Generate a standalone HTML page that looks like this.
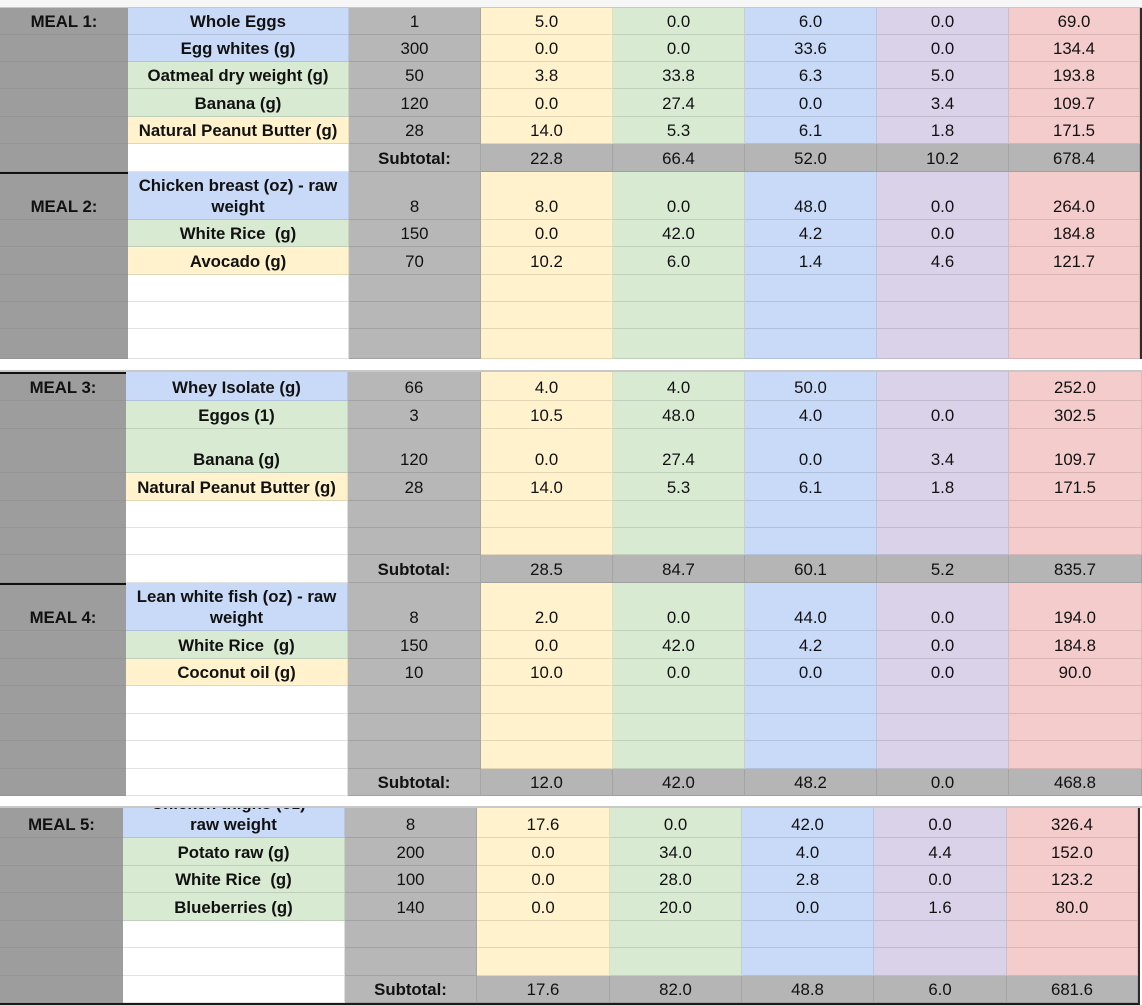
<!DOCTYPE html>
<html><head><meta charset="utf-8">
<style>
html,body{margin:0;padding:0;background:#fff;}
body{width:1142px;height:1006px;position:relative;overflow:hidden;font-family:"Liberation Sans",Arial,sans-serif;font-size:16.8px;color:#111;}
.top{position:absolute;left:0;top:0;width:1142px;height:7px;background:#f6f6f6;border-bottom:1px solid #c8c8c8;}
.blk{position:absolute;display:grid;}
.blk>div{box-sizing:border-box;display:flex;align-items:flex-end;justify-content:center;text-align:center;padding:0 3px 2px;line-height:21px;overflow:hidden;white-space:nowrap;border-right:1px solid rgba(0,0,0,.09);border-bottom:1px solid rgba(0,0,0,.11);}
#b1{left:0;top:8px;grid-template-columns:128px 221px 132px 132px 132px 132px 132px 131px;grid-template-rows:27px 27px 27px 28px 27px 28px 48px 27px 28px 27px 27px 30px;border-right:2px solid #2b2b2b;}
#b2{left:0;top:372px;grid-template-columns:126px 222px 133px 132px 132px 132px 132px 133px;grid-template-rows:29px 28px 44px 28px 27px 27px 28px 48px 28px 27px 28px 27px 28px 27px;}
#b3{left:0;top:808px;grid-template-columns:123px 222px 132px 133px 132px 132px 133px 131px;grid-template-rows:30px 28px 27px 28px 27px 28px 27px;border-right:2px solid #2b2b2b;border-bottom:2px solid #1a1a1a;}
.a{background:#9d9d9d;font-weight:bold;border-right:none!important;border-bottom:1px solid rgba(0,0,0,.05)!important;}
.bk{border-top:2px solid #111;}
.w{background:#fff;border-bottom:1px solid #e2e2e2!important;border-right:1px solid #ddd!important;}
.bl{background:#c9daf8;font-weight:bold;}
.gr{background:#d9ead3;font-weight:bold;}
.ye{background:#fff2cc;font-weight:bold;}
.c{background:#b7b7b7;}
.y{background:#fff2cc;}
.g{background:#d9ead3;}
.u{background:#c9daf8;}
.p{background:#d9d2e9;}
.k{background:#f4cccc;}
.s{background:#b5b5b5;}
.sb{font-weight:bold;}
.gap2{position:absolute;left:0;top:370px;width:1142px;height:2px;background:#c8c8c8;}
.gap3{position:absolute;left:0;top:806px;width:1142px;height:2px;background:#c8c8c8;}
.bot{position:absolute;left:0;top:1005px;width:1142px;height:1px;background:#d8d8d8;}
</style></head><body>
<div class="top"></div>

<div class="blk" id="b1">
<div class="a">MEAL 1:</div><div class="bl">Whole Eggs</div><div class="c">1</div><div class="y">5.0</div><div class="g">0.0</div><div class="u">6.0</div><div class="p">0.0</div><div class="k">69.0</div>
<div class="a"></div><div class="bl">Egg whites (g)</div><div class="c">300</div><div class="y">0.0</div><div class="g">0.0</div><div class="u">33.6</div><div class="p">0.0</div><div class="k">134.4</div>
<div class="a"></div><div class="gr">Oatmeal dry weight (g)</div><div class="c">50</div><div class="y">3.8</div><div class="g">33.8</div><div class="u">6.3</div><div class="p">5.0</div><div class="k">193.8</div>
<div class="a"></div><div class="gr">Banana (g)</div><div class="c">120</div><div class="y">0.0</div><div class="g">27.4</div><div class="u">0.0</div><div class="p">3.4</div><div class="k">109.7</div>
<div class="a"></div><div class="ye">Natural Peanut Butter (g)</div><div class="c">28</div><div class="y">14.0</div><div class="g">5.3</div><div class="u">6.1</div><div class="p">1.8</div><div class="k">171.5</div>
<div class="a"></div><div class="w"></div><div class="c sb">Subtotal:</div><div class="s">22.8</div><div class="s">66.4</div><div class="s">52.0</div><div class="s">10.2</div><div class="s">678.4</div>
<div class="a bk">MEAL 2:</div><div class="bl">Chicken breast (oz) - raw<br>weight</div><div class="c">8</div><div class="y">8.0</div><div class="g">0.0</div><div class="u">48.0</div><div class="p">0.0</div><div class="k">264.0</div>
<div class="a"></div><div class="gr">White Rice&nbsp; (g)</div><div class="c">150</div><div class="y">0.0</div><div class="g">42.0</div><div class="u">4.2</div><div class="p">0.0</div><div class="k">184.8</div>
<div class="a"></div><div class="ye">Avocado (g)</div><div class="c">70</div><div class="y">10.2</div><div class="g">6.0</div><div class="u">1.4</div><div class="p">4.6</div><div class="k">121.7</div>
<div class="a"></div><div class="w"></div><div class="c"></div><div class="y"></div><div class="g"></div><div class="u"></div><div class="p"></div><div class="k"></div>
<div class="a"></div><div class="w"></div><div class="c"></div><div class="y"></div><div class="g"></div><div class="u"></div><div class="p"></div><div class="k"></div>
<div class="a"></div><div class="w"></div><div class="c"></div><div class="y"></div><div class="g"></div><div class="u"></div><div class="p"></div><div class="k"></div>
</div>

<div class="gap2"></div>
<div class="blk" id="b2">
<div class="a bk">MEAL 3:</div><div class="bl">Whey Isolate (g)</div><div class="c">66</div><div class="y">4.0</div><div class="g">4.0</div><div class="u">50.0</div><div class="p"></div><div class="k">252.0</div>
<div class="a"></div><div class="gr">Eggos (1)</div><div class="c">3</div><div class="y">10.5</div><div class="g">48.0</div><div class="u">4.0</div><div class="p">0.0</div><div class="k">302.5</div>
<div class="a"></div><div class="gr">Banana (g)</div><div class="c">120</div><div class="y">0.0</div><div class="g">27.4</div><div class="u">0.0</div><div class="p">3.4</div><div class="k">109.7</div>
<div class="a"></div><div class="ye">Natural Peanut Butter (g)</div><div class="c">28</div><div class="y">14.0</div><div class="g">5.3</div><div class="u">6.1</div><div class="p">1.8</div><div class="k">171.5</div>
<div class="a"></div><div class="w"></div><div class="c"></div><div class="y"></div><div class="g"></div><div class="u"></div><div class="p"></div><div class="k"></div>
<div class="a"></div><div class="w"></div><div class="c"></div><div class="y"></div><div class="g"></div><div class="u"></div><div class="p"></div><div class="k"></div>
<div class="a"></div><div class="w"></div><div class="c sb">Subtotal:</div><div class="s">28.5</div><div class="s">84.7</div><div class="s">60.1</div><div class="s">5.2</div><div class="s">835.7</div>
<div class="a bk">MEAL 4:</div><div class="bl">Lean white fish (oz) - raw<br>weight</div><div class="c">8</div><div class="y">2.0</div><div class="g">0.0</div><div class="u">44.0</div><div class="p">0.0</div><div class="k">194.0</div>
<div class="a"></div><div class="gr">White Rice&nbsp; (g)</div><div class="c">150</div><div class="y">0.0</div><div class="g">42.0</div><div class="u">4.2</div><div class="p">0.0</div><div class="k">184.8</div>
<div class="a"></div><div class="ye">Coconut oil (g)</div><div class="c">10</div><div class="y">10.0</div><div class="g">0.0</div><div class="u">0.0</div><div class="p">0.0</div><div class="k">90.0</div>
<div class="a"></div><div class="w"></div><div class="c"></div><div class="y"></div><div class="g"></div><div class="u"></div><div class="p"></div><div class="k"></div>
<div class="a"></div><div class="w"></div><div class="c"></div><div class="y"></div><div class="g"></div><div class="u"></div><div class="p"></div><div class="k"></div>
<div class="a"></div><div class="w"></div><div class="c"></div><div class="y"></div><div class="g"></div><div class="u"></div><div class="p"></div><div class="k"></div>
<div class="a"></div><div class="w"></div><div class="c sb">Subtotal:</div><div class="s">12.0</div><div class="s">42.0</div><div class="s">48.2</div><div class="s">0.0</div><div class="s">468.8</div>
</div>

<div class="gap3"></div>
<div class="blk" id="b3">
<div class="a">MEAL 5:</div><div class="bl">Chicken thighs (oz) -<br>raw weight</div><div class="c">8</div><div class="y">17.6</div><div class="g">0.0</div><div class="u">42.0</div><div class="p">0.0</div><div class="k">326.4</div>
<div class="a"></div><div class="gr">Potato raw (g)</div><div class="c">200</div><div class="y">0.0</div><div class="g">34.0</div><div class="u">4.0</div><div class="p">4.4</div><div class="k">152.0</div>
<div class="a"></div><div class="gr">White Rice&nbsp; (g)</div><div class="c">100</div><div class="y">0.0</div><div class="g">28.0</div><div class="u">2.8</div><div class="p">0.0</div><div class="k">123.2</div>
<div class="a"></div><div class="gr">Blueberries (g)</div><div class="c">140</div><div class="y">0.0</div><div class="g">20.0</div><div class="u">0.0</div><div class="p">1.6</div><div class="k">80.0</div>
<div class="a"></div><div class="w"></div><div class="c"></div><div class="y"></div><div class="g"></div><div class="u"></div><div class="p"></div><div class="k"></div>
<div class="a"></div><div class="w"></div><div class="c"></div><div class="y"></div><div class="g"></div><div class="u"></div><div class="p"></div><div class="k"></div>
<div class="a"></div><div class="w"></div><div class="c sb">Subtotal:</div><div class="s">17.6</div><div class="s">82.0</div><div class="s">48.8</div><div class="s">6.0</div><div class="s">681.6</div>
</div>
<div class="bot"></div>
</body></html>
